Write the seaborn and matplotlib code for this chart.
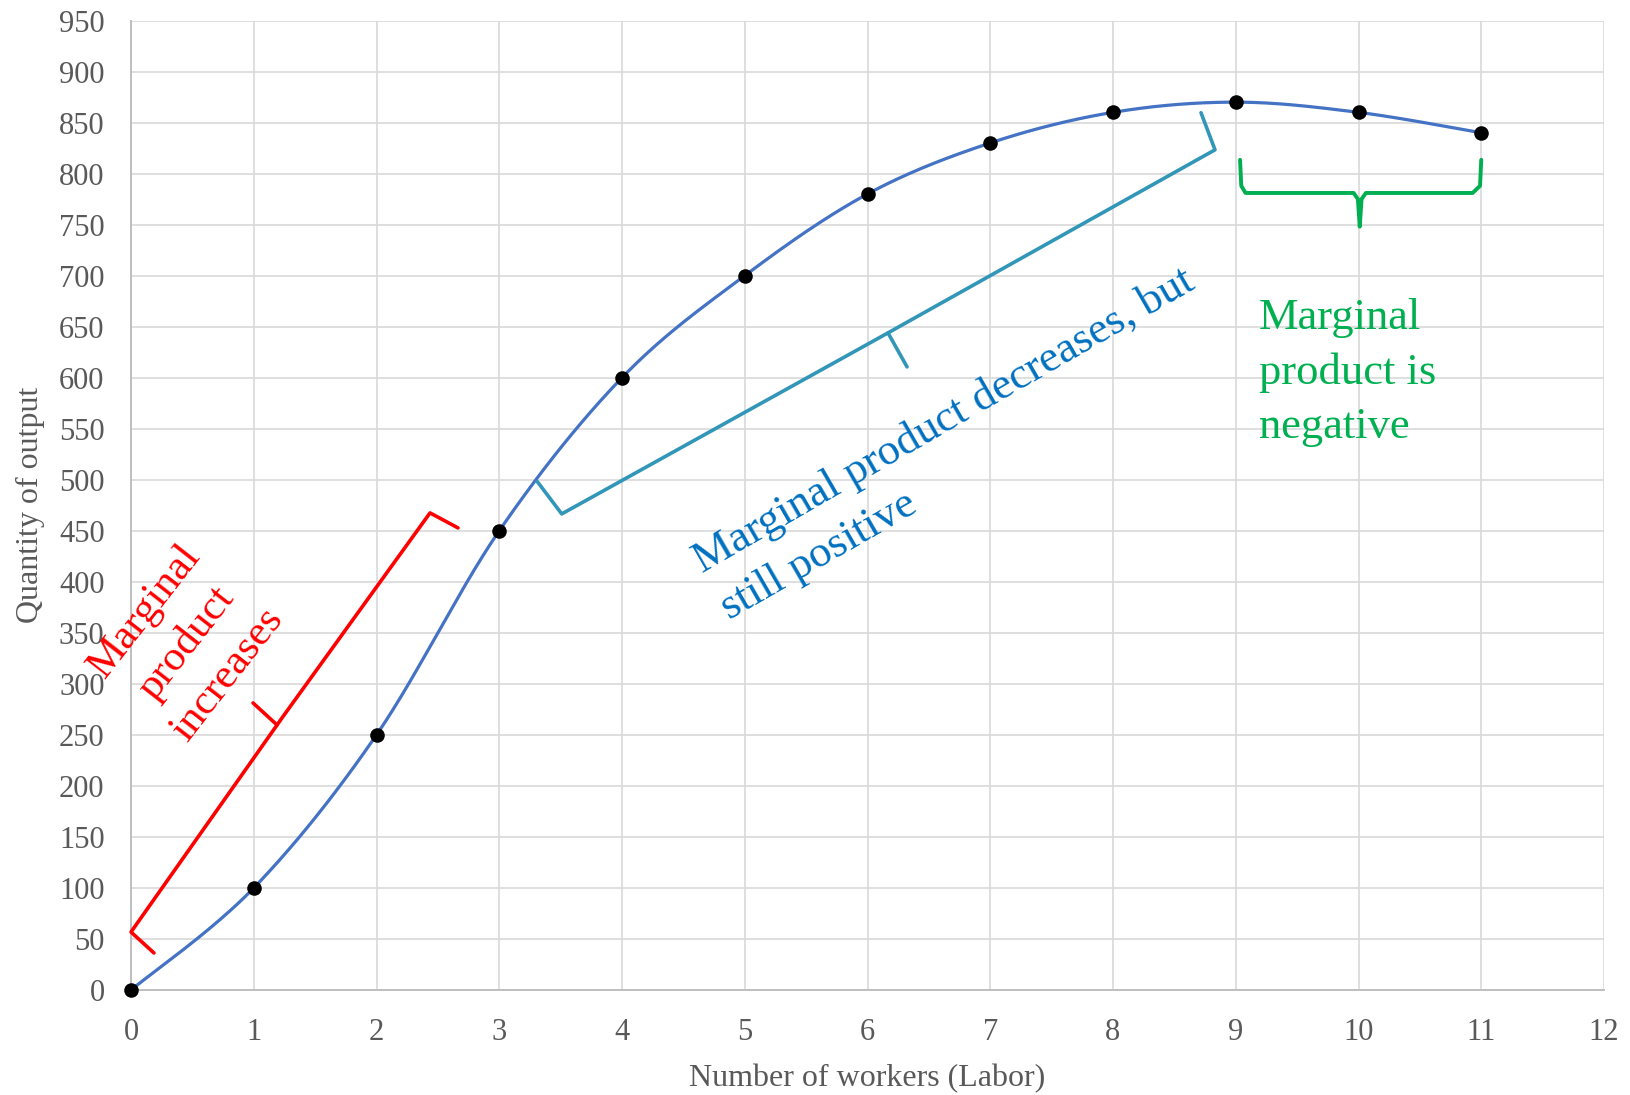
import numpy as np
import pandas as pd
import matplotlib
matplotlib.use("Agg")
import matplotlib.pyplot as plt
import seaborn as sns

# ---- data ----
workers = [0, 1, 2, 3, 4, 5, 6, 7, 8, 9, 10, 11]
output = [0, 100, 250, 450, 600, 700, 780, 830, 860, 870, 860, 840]
x_ticks = list(range(0, 13))
y_ticks = list(range(0, 951, 50))
x_label = "Number of workers (Labor)"
y_label = "Quantity of output"
txt_increase = "Marginal\nproduct\nincreases"
txt_decrease = "Marginal product decreases, but\nstill positive"
txt_negative = "Marginal\nproduct is\nnegative"

sns.set_theme(style="whitegrid")
plt.rcParams['font.family'] = ['Liberation Serif', 'DejaVu Serif']

df = pd.DataFrame({"workers": workers, "output": output})

# smoothed curve (Catmull-Rom style, like a spreadsheet "smoothed line")
def smooth(xs, ys, n=40):
    P = np.column_stack([xs, ys]).astype(float)
    ext = np.vstack([P[0], P, P[-1]])
    out = []
    t = np.linspace(0, 1, n)[:, None]
    for i in range(len(P) - 1):
        p0, p1, p2, p3 = ext[i], ext[i + 1], ext[i + 2], ext[i + 3]
        c1 = p1 + (p2 - p0) / 6.0
        c2 = p2 - (p3 - p1) / 6.0
        seg = ((1 - t) ** 3) * p1 + 3 * ((1 - t) ** 2) * t * c1 + 3 * (1 - t) * t ** 2 * c2 + t ** 3 * p2
        out.append(seg if i == 0 else seg[1:])
    return np.vstack(out)

curve = smooth(df["workers"].values, df["output"].values)
curve_df = pd.DataFrame({"x": curve[:, 0], "y": curve[:, 1]})

fig = plt.figure(figsize=(16.3, 10.95), dpi=100)
ax = fig.add_axes([131 / 1630, 1 - 990 / 1095, (1604 - 131) / 1630, (990 - 20.5) / 1095])
ax.set_facecolor("white")

sns.lineplot(data=curve_df, x="x", y="y", ax=ax, color="#4472C4", linewidth=2.3,
             sort=False, estimator=None, zorder=3)
sns.scatterplot(data=df, x="workers", y="output", ax=ax, color="black", s=110,
                edgecolor="black", linewidth=0, zorder=4, clip_on=False)

ax.set_xlim(0, 12)
ax.set_ylim(0, 950)
ax.set_xticks(x_ticks)
ax.set_yticks(y_ticks)
ax.grid(True, color="#D9D9D9", linewidth=1.2)
ax.tick_params(axis="both", length=0, labelsize=22, labelcolor="#595959")
ax.tick_params(axis="x", pad=20)
ax.tick_params(axis="y", pad=19)
for s in ["top", "right"]:
    ax.spines[s].set_visible(False)
for s in ["left", "bottom"]:
    ax.spines[s].set_color("#BFBFBF")
    ax.spines[s].set_linewidth(1.4)
ax.set_xlabel(x_label, fontsize=23, color="#595959", labelpad=12)
ax.set_ylabel(y_label, fontsize=23, color="#595959", labelpad=10)

# ---- annotations ----
red = "#FF0000"
ax.plot([0.187, 0.0, 1.19, 0.994], [36.3, 56.8, 259.7, 281.3], color=red, lw=2.6,
        clip_on=False, solid_joinstyle="round", zorder=5)
ax.plot([1.19, 1.23, 2.436, 2.664], [259.7, 266.6, 467.5, 452.8], color=red, lw=2.6,
        clip_on=False, solid_joinstyle="round", zorder=5)
ax.text(0.45, 340, txt_increase, color=red, fontsize=31, rotation=52,
        rotation_mode="anchor", ha="center", va="center", multialignment="center",
        linespacing=1.45, clip_on=False, zorder=6)

teal = "#3196B8"
ax.plot([3.310, 3.509, 6.167, 6.322], [498.2, 466.5, 643.9, 610.6], color=teal, lw=2.6,
        solid_joinstyle="round", zorder=5)
ax.plot([6.167, 8.831, 8.717], [643.9, 823.3, 859.6], color=teal, lw=2.6,
        solid_joinstyle="round", zorder=5)
ax.text(6.73, 535, txt_decrease, color="#0070C0", fontsize=32, rotation=30,
        rotation_mode="anchor", ha="center", va="center", multialignment="left",
        linespacing=1.45, zorder=6)

green = "#00B050"
gx = [9.035, 9.045, 9.08, 9.96, 9.995, 10.01, 10.025, 10.06, 10.93, 10.99, 11.0]
gy = [813.5, 788, 781, 781, 775, 748, 775, 781, 781, 788, 813.5]
ax.plot(gx, gy, color=green, lw=2.8, solid_joinstyle="round", zorder=5)
ax.text(9.19, 678, txt_negative, color=green, fontsize=32, ha="left", va="top",
        linespacing=1.45, zorder=6)

fig.savefig("out.png", dpi=100, facecolor="white")
